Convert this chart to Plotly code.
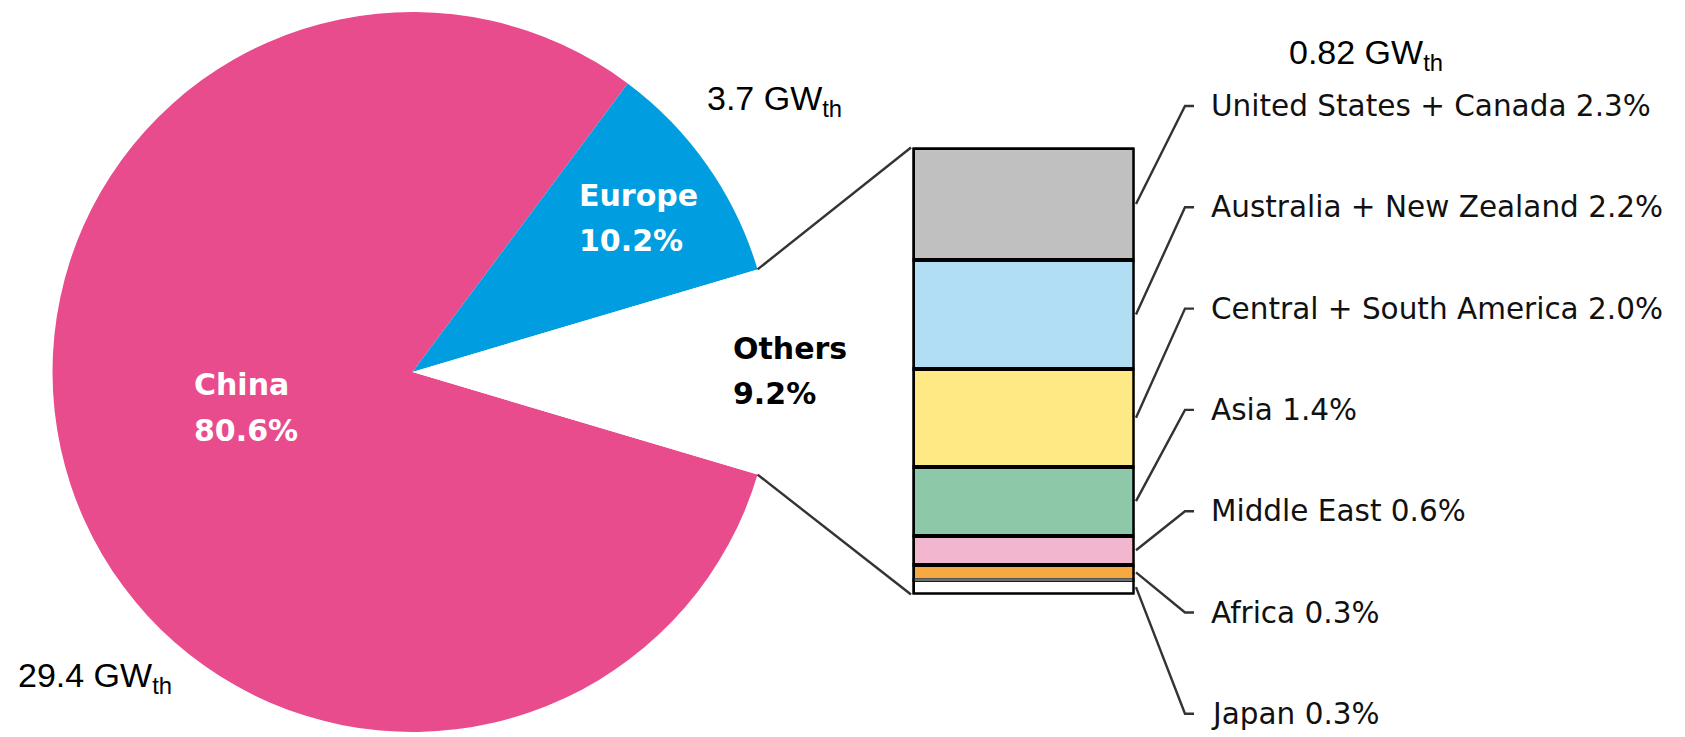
import math
import plotly.graph_objects as go

# ---- data -------------------------------------------------------------
regions = ["China", "Europe", "Others"]
shares = [80.6, 10.2, 9.2]                # % of total capacity
capacity_gw = [29.4, 3.7, 0.82]           # GWth (China, Europe, Others)
pie_colors = ["#E84C8D", "#009EE0", "#FFFFFF"]
pie_text_colors = ["white", "white", "black"]

others_regions = [
    "United States + Canada",
    "Australia + New Zealand",
    "Central + South America",
    "Asia",
    "Middle East",
    "Africa",
    "Japan",
]
others_shares = [2.3, 2.2, 2.0, 1.4, 0.6, 0.3, 0.3]
others_colors = ["#C0C0C0", "#B1DEF4", "#FFE985", "#8DC8A9",
                 "#F3B6CF", "#F5A940", "#FFFFFF"]

# ---- canvas helpers ---------------------------------------------------
W, H = 1685, 737


def px(x):
    return x / W


def py(y):
    return 1 - y / H


# pie geometry (pixels)
PIE_CX, PIE_CY, PIE_R = 412.5, 372.0, 360.0
# stacked bar geometry (pixels)
BAR_L, BAR_R, BAR_T, BAR_B = 912.5, 1134.5, 147.5, 594.5

fig = go.Figure()

# ---- pie: Others slice centred at 3 o'clock --------------------------
rotation = 90 + 360 * shares[2] / 100 / 2
fig.add_trace(go.Pie(
    labels=regions,
    values=shares,
    sort=False,
    direction="clockwise",
    rotation=rotation,
    marker=dict(colors=pie_colors, line=dict(width=0)),
    textinfo="none",
    hoverinfo="label+percent",
    showlegend=False,
    domain=dict(x=[px(PIE_CX - PIE_R), px(PIE_CX + PIE_R)],
                y=[py(PIE_CY + PIE_R), py(PIE_CY - PIE_R)]),
))

# ---- stacked bar breaking down "Others" ------------------------------
total_others = sum(others_shares)
for name, val, col in reversed(list(zip(others_regions, others_shares, others_colors))):
    fig.add_trace(go.Bar(
        x=[0], y=[val], width=1,
        marker=dict(color=col, line=dict(color="black", width=4)),
        name=name, showlegend=False, cliponaxis=False,
        hovertemplate=name + " %{y:.1f}%<extra></extra>",
        xaxis="x", yaxis="y",
    ))


def bar_y(v):
    """Value on the bar axis -> paper y."""
    y0, y1 = py(BAR_B), py(BAR_T)
    return y0 + (v / total_others) * (y1 - y0)


shapes = []
# grey rule above the bottom segment, then the overall black frame
shapes.append(dict(type="line", xref="x", yref="y", x0=-0.5, x1=0.5,
                   y0=others_shares[-1], y1=others_shares[-1],
                   line=dict(color="#6E6E6E", width=3), layer="above"))
shapes.append(dict(type="rect", xref="x", yref="y", x0=-0.5, x1=0.5,
                   y0=0, y1=total_others,
                   line=dict(color="black", width=4.5), layer="above"))

# connectors from the Others slice edges to the bar corners
half = math.pi * shares[2] / 100
edge_top = (PIE_CX + PIE_R * math.cos(half), PIE_CY - PIE_R * math.sin(half))
edge_bot = (PIE_CX + PIE_R * math.cos(half), PIE_CY + PIE_R * math.sin(half))
conn = dict(color="#333333", width=2.4)
shapes.append(dict(type="line", xref="paper", yref="paper",
                   x0=px(edge_top[0]), y0=py(edge_top[1]),
                   x1=px(BAR_L - 1.5), y1=bar_y(total_others), line=conn))
shapes.append(dict(type="line", xref="paper", yref="paper",
                   x0=px(edge_bot[0]), y0=py(edge_bot[1]),
                   x1=px(BAR_L - 1.5), y1=bar_y(0), line=conn))

# leader lines and labels for the bar segments
LABEL_Y0, LABEL_STEP = 106.0, 101.3
CORNER_X, TICK_X, TEXT_X = 1185, 1194, 1209
annotations = []
top = total_others
for i, (name, val) in enumerate(zip(others_regions, others_shares)):
    mid = top - val / 2
    top -= val
    ly = LABEL_Y0 + i * LABEL_STEP
    path = "M {:.5f},{:.5f} L {:.5f},{:.5f} L {:.5f},{:.5f}".format(
        px(BAR_R + 1.5), bar_y(mid), px(CORNER_X), py(ly), px(TICK_X), py(ly))
    shapes.append(dict(type="path", xref="paper", yref="paper", path=path,
                       line=conn))
    annotations.append(dict(
        x=px(TEXT_X), y=py(ly), xref="paper", yref="paper",
        xanchor="left", yanchor="middle", showarrow=False,
        text=f"{name} {val:.1f}%",
        font=dict(family="DejaVu Sans", size=29.5, color="#111111"),
    ))

# slice labels inside the pie (two left-aligned lines each)
slice_label_pos = {"China": (192, 385, 430), "Europe": (577, 195, 241),
                   "Others": (731, 348, 393)}
for name, share, tcol in zip(regions, shares, pie_text_colors):
    lx, y1, y2 = slice_label_pos[name]
    for txt, yy in ((name, y1), (f"{share:.1f}%", y2)):
        annotations.append(dict(
            x=px(lx), y=py(yy), xref="paper", yref="paper",
            xanchor="left", yanchor="middle", showarrow=False, text=txt,
            font=dict(family="DejaVu Sans", size=30, color=tcol,
                      weight="bold"),
        ))

# capacity labels
cap_pos = [(16, 677), (705, 101), (1287, 55)]
for gw, (cx, cy) in zip(capacity_gw, cap_pos):
    annotations.append(dict(
        x=px(cx), y=py(cy), xref="paper", yref="paper",
        xanchor="left", yanchor="middle", showarrow=False,
        text=f"{gw:g} GW<sub>th</sub>",
        font=dict(family="Liberation Sans", size=34, color="black"),
    ))

fig.update_layout(
    width=W, height=H,
    margin=dict(l=0, r=0, t=0, b=0),
    paper_bgcolor="white", plot_bgcolor="rgba(0,0,0,0)",
    barmode="stack",
    xaxis=dict(domain=[px(BAR_L), px(BAR_R)], range=[-0.5, 0.5],
               visible=False, fixedrange=True),
    yaxis=dict(domain=[py(BAR_B), py(BAR_T)], range=[0, total_others],
               visible=False, fixedrange=True),
    shapes=shapes,
    annotations=annotations,
    showlegend=False,
)

fig.write_html("out.html")
